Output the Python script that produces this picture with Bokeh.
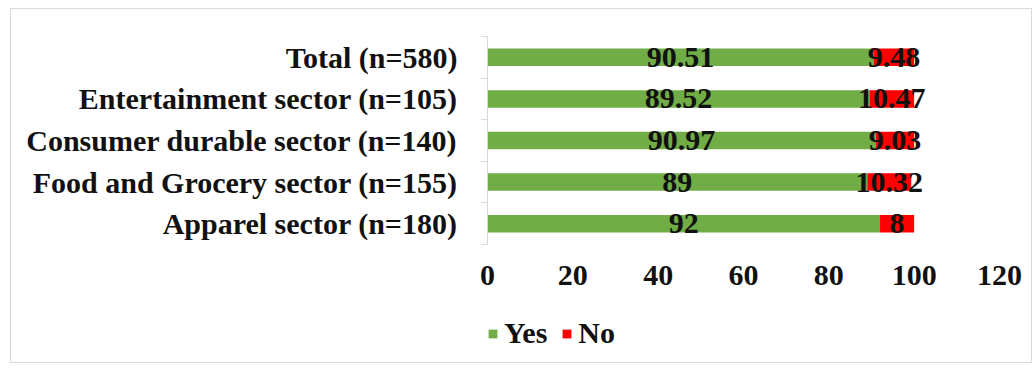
from bokeh.plotting import figure
from bokeh.layouts import column
from bokeh.models import (ColumnDataSource, Range1d, LinearAxis, FixedTicker, Legend, LegendItem)
from bokeh.core.properties import value
from bokeh.embed import file_html
from bokeh.resources import INLINE

# ---- data (bottom to top) ----
categories = ["Apparel sector (n=180)", "Food and Grocery sector (n=155)",
              "Consumer durable sector (n=140)", "Entertainment sector (n=105)",
              "Total (n=580)"]
yes = [92, 89, 90.97, 89.52, 90.51]
no = [8, 10.32, 9.03, 10.47, 9.48]
yes_labels = ["92", "89", "90.97", "89.52", "90.51"]
no_labels = ["8", "10.32", "9.03", "10.47", "9.48"]
x_ticks = [0, 20, 40, 60, 80, 100, 120]

FONT = "Liberation Serif"
FS = "30px"
GREEN = "#70AD47"
RED = "#FF0000"

n = len(categories)
ypos = [i + 0.5 for i in range(n)]
src = ColumnDataSource(dict(
    y=ypos, yes=yes, no=no,
    yes_mid=[v / 2 for v in yes],
    no_mid=[a + b / 2 for a, b in zip(yes, no)],
    yes_lab=yes_labels, no_lab=no_labels,
))

p = figure(y_range=Range1d(0, n), x_range=Range1d(0, 120),
           frame_width=512, frame_height=208,
           output_backend="svg", toolbar_location=None,
           y_axis_location=None, x_axis_location="below",
           min_border_left=476, min_border_right=32,
           min_border_top=27, min_border_bottom=58)
p.outline_line_color = None
p.grid.visible = False
p.background_fill_color = "white"
p.border_fill_color = "white"

rs = p.hbar_stack(["yes", "no"], y="y", height=0.42, color=[GREEN, RED],
                  line_color=None, source=src)

for xcol, tcol in (("yes_mid", "yes_lab"), ("no_mid", "no_lab")):
    p.text(x=xcol, y="y", text=tcol, source=src, text_align="center",
           text_baseline="middle", text_font=value(FONT), text_font_style="bold",
           text_font_size=FS, text_color="#111111")

# x axis
xa = p.xaxis[0]
xa.ticker = FixedTicker(ticks=x_ticks)
xa.axis_line_color = None
xa.major_tick_line_color = None
xa.minor_tick_line_color = None
xa.major_label_standoff = 15
xa.major_label_text_font = FONT
xa.major_label_text_font_style = "bold"
xa.major_label_text_font_size = FS
xa.major_label_text_color = "#111111"

# boundary tick axis (closest to frame)
bticks = list(range(n + 1))
ba = LinearAxis(ticker=FixedTicker(ticks=bticks),
                major_label_overrides={t: "" for t in bticks})
ba.axis_line_color = "#d9d9d9"
ba.major_tick_line_color = "#d9d9d9"
ba.major_tick_in = 0
ba.major_tick_out = 6
ba.minor_tick_line_color = None
ba.major_label_standoff = 0
p.add_layout(ba, "left")

# category label axis
ca = LinearAxis(ticker=FixedTicker(ticks=ypos),
                major_label_overrides={yv: c for yv, c in zip(ypos, categories)})
ca.axis_line_color = None
ca.major_tick_line_color = None
ca.minor_tick_line_color = None
ca.major_label_standoff = 18
ca.major_label_text_font = FONT
ca.major_label_text_font_style = "bold"
ca.major_label_text_font_size = FS
ca.major_label_text_color = "#111111"
p.add_layout(ca, "left")

# legend strip below the chart
lf = figure(width=1020, height=60, x_range=Range1d(0, 120), y_range=Range1d(0, n),
            output_backend="svg", toolbar_location=None,
            x_axis_location=None, y_axis_location=None,
            min_border=0, min_border_left=0, min_border_right=0,
            min_border_top=0, min_border_bottom=0)
lf.outline_line_color = None
lf.grid.visible = False
lrs = lf.hbar_stack(["yes", "no"], y="y", height=0.42, color=[GREEN, RED],
                    line_color=None, source=src)
for r in lrs:
    r.visible = False

legend = Legend(items=[LegendItem(label="Yes", renderers=[lrs[0]]),
                       LegendItem(label="No", renderers=[lrs[1]])],
                orientation="horizontal", location=(0, 12),
                glyph_width=11, glyph_height=11, spacing=14, padding=0, margin=0,
                label_text_font=FONT, label_text_font_style="bold",
                label_text_font_size=FS, label_text_color="#111111",
                label_standoff=6, border_line_color=None, background_fill_alpha=0,
                inactive_fill_alpha=0)
lf.add_layout(legend, "center")

layout = column(p, lf, spacing=0, margin=(8, 0, 0, 10),
                styles={"border": "1px solid #d9d9d9", "background": "white"})

open("out.html", "w").write(file_html(layout, INLINE))
